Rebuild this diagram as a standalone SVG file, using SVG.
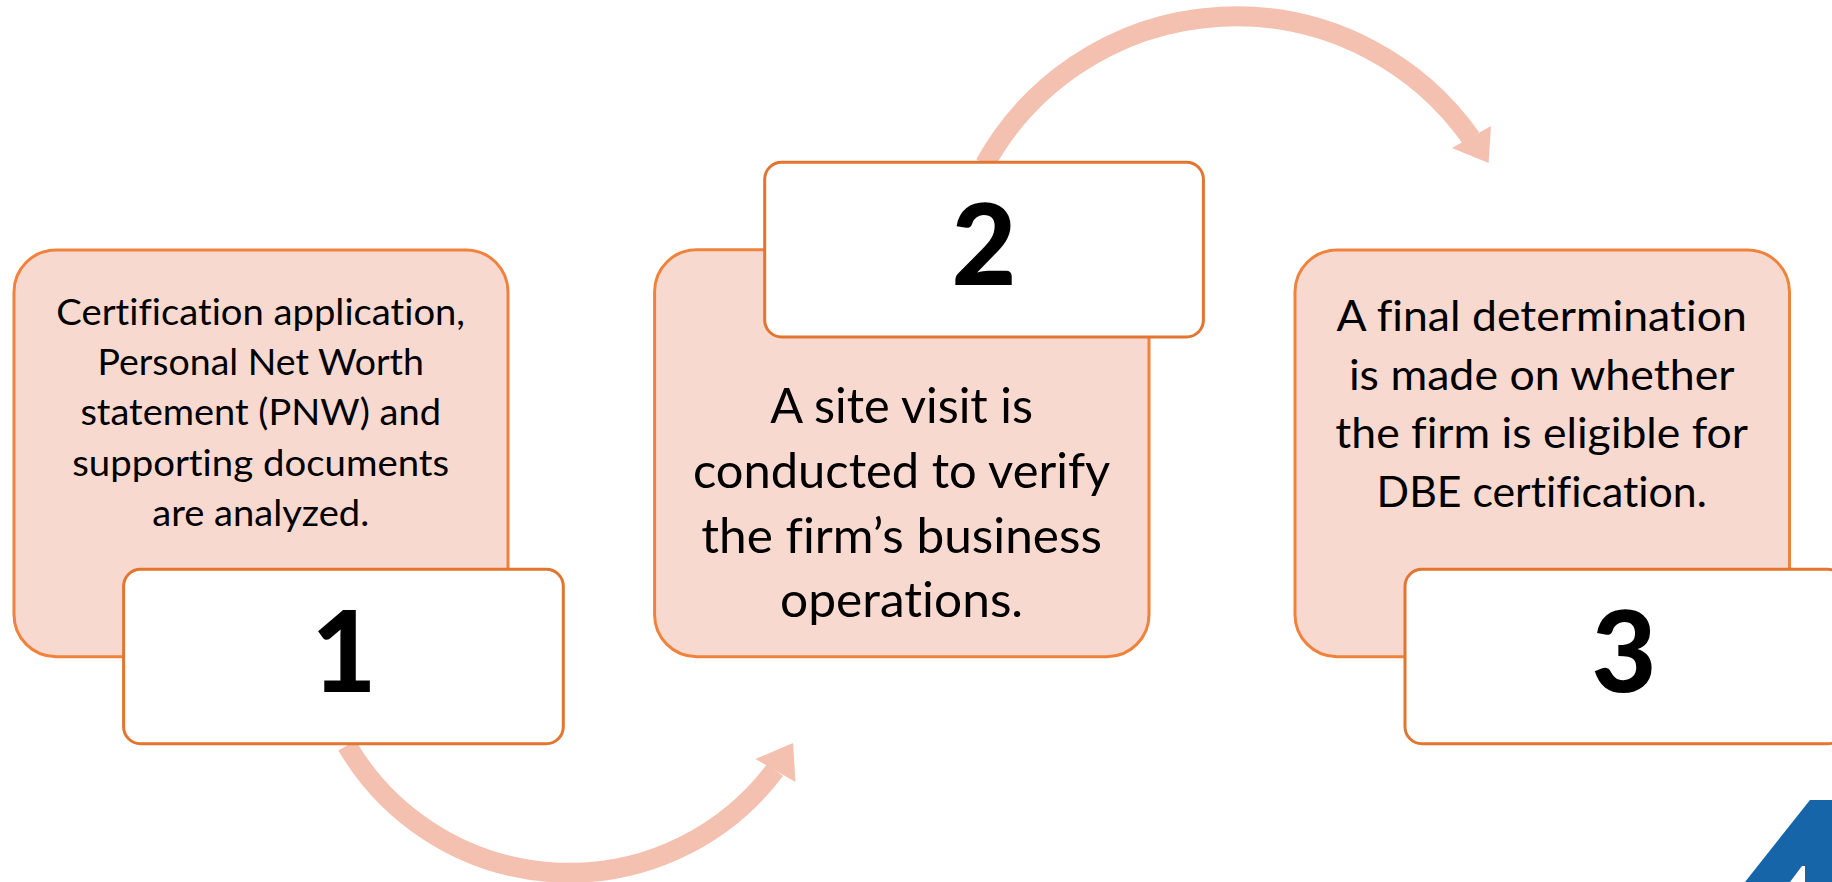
<svg xmlns="http://www.w3.org/2000/svg" width="1832" height="882" viewBox="0 0 1832 882">
<style>
.card{fill:#F8D9D0;stroke:#F0823C;stroke-width:3}
.badge{fill:#FFFFFF;stroke:#E2752F;stroke-width:3}
.arc{fill:none;stroke:#F4C0AF;stroke-width:20}
.head{fill:#F4C0AF}
text{font-family:"Lato","Liberation Sans",sans-serif;fill:#000;text-anchor:middle;font-variant-ligatures:none}
.num{font-weight:900;font-size:112px}
.s1{font-size:37px}.s2{font-size:48px}.s3{font-size:43px}
</style>
<rect width="1832" height="882" fill="#FFFFFF"/>
<g id="logo">
<path d="M1810 800H1832V882H1745Z" fill="#1565A8"/>
<path d="M1790 882L1802 866H1805V882Z" fill="#FFFFFF"/>
</g>
<g id="connectors">
<path class="arc" d="M985 164A287.4 287.4 0 0 1 1471 138"/>
<polygon class="head" points="1491,126 1452,148 1488.6,163"/>
<path class="arc" d="M347 745.5A257.5 257.5 0 0 0 775 770"/>
<polygon class="head" points="793,743 755.5,759 795.5,782"/>
</g>
<g id="node-1">
<rect class="card" x="14" y="250" width="494" height="406.7" rx="42"/>
<text class="s1" x="260.7" y="325" textLength="408.7" lengthAdjust="spacingAndGlyphs">Certification application,</text>
<text class="s1" x="260.7" y="374.5" textLength="326.4" lengthAdjust="spacingAndGlyphs">Personal Net Worth</text>
<text class="s1" x="260.7" y="425" textLength="360.6" lengthAdjust="spacingAndGlyphs">statement (PNW) and</text>
<text class="s1" x="260.7" y="475.5" textLength="377" lengthAdjust="spacingAndGlyphs">supporting documents</text>
<text class="s1" x="260.7" y="526" textLength="217" lengthAdjust="spacingAndGlyphs">are analyzed.</text>
<rect class="badge" x="123.6" y="569.3" width="439.7" height="174.4" rx="17"/>
<text class="num" x="344" y="692.3">1</text>
</g>
<g id="node-2">
<rect class="card" x="654.6" y="249.7" width="494.4" height="407" rx="42"/>
<text class="s2" x="901.6" y="422.7" textLength="262.7" lengthAdjust="spacingAndGlyphs">A site visit is</text>
<text class="s2" x="901.6" y="487.5" textLength="417.3" lengthAdjust="spacingAndGlyphs">conducted to verify</text>
<text class="s2" x="901.6" y="552.5" textLength="400.6" lengthAdjust="spacingAndGlyphs">the firm’s business</text>
<text class="s2" x="901.6" y="617.3" textLength="243" lengthAdjust="spacingAndGlyphs">operations.</text>
<rect class="badge" x="764.7" y="162.3" width="438.7" height="174.7" rx="17"/>
<text class="num" x="984" y="285">2</text>
</g>
<g id="node-3">
<rect class="card" x="1295" y="250" width="494.5" height="406.7" rx="42"/>
<text class="s3" x="1541.7" y="330.7" textLength="410.2" lengthAdjust="spacingAndGlyphs">A final determination</text>
<text class="s3" x="1541.7" y="390" textLength="385.6" lengthAdjust="spacingAndGlyphs">is made on whether</text>
<text class="s3" x="1541.7" y="448" textLength="412.7" lengthAdjust="spacingAndGlyphs">the firm is eligible for</text>
<text class="s3" x="1541.7" y="506.7" textLength="330.2" lengthAdjust="spacingAndGlyphs">DBE certification.</text>
<rect class="badge" x="1405" y="569.3" width="439.7" height="174.4" rx="17"/>
<text class="num" x="1624" y="692.3">3</text>
</g>
</svg>
